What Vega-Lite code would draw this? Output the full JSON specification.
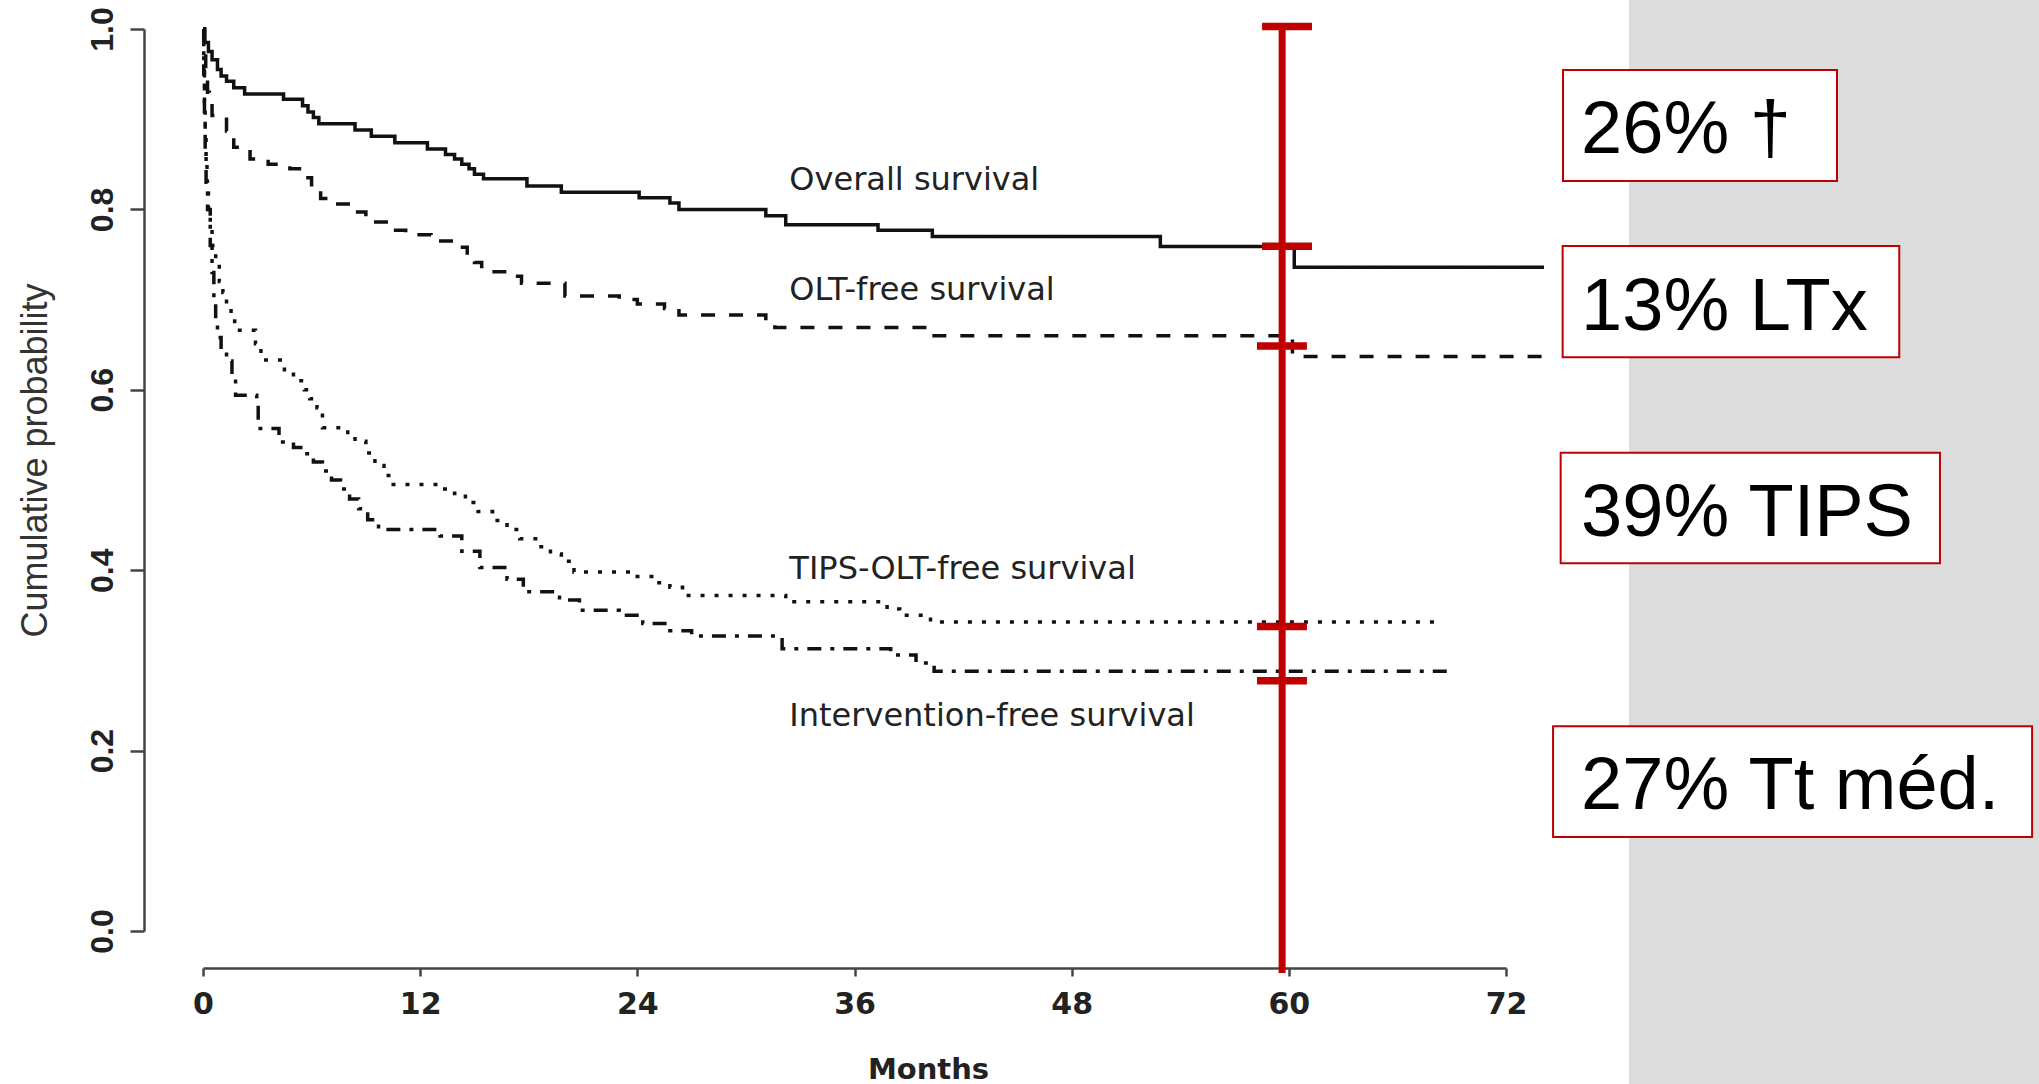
{
  "$schema": "https://vega.github.io/schema/vega-lite/v6.json",
  "width": 1303,
  "height": 902,
  "autosize": {"type": "none"},
  "padding": {"left": 203, "top": 29, "right": 533, "bottom": 153},
  "background": "white",
  "config": {"view": {"stroke": null}},
  "datasets": {
    "panel": [{"m0": 78.8, "m1": 102, "p0": -0.2, "p1": 1.05}],
    "curves": [
      {"series": "Overall survival", "month": 0, "prob": 1.0},
      {"series": "Overall survival", "month": 0.1, "prob": 0.985},
      {"series": "Overall survival", "month": 0.3, "prob": 0.975},
      {"series": "Overall survival", "month": 0.5, "prob": 0.966},
      {"series": "Overall survival", "month": 0.8, "prob": 0.955},
      {"series": "Overall survival", "month": 1.0, "prob": 0.948},
      {"series": "Overall survival", "month": 1.3, "prob": 0.942},
      {"series": "Overall survival", "month": 1.7, "prob": 0.935},
      {"series": "Overall survival", "month": 2.3, "prob": 0.928},
      {"series": "Overall survival", "month": 4.45, "prob": 0.922},
      {"series": "Overall survival", "month": 5.5, "prob": 0.915},
      {"series": "Overall survival", "month": 5.8, "prob": 0.908},
      {"series": "Overall survival", "month": 6.1, "prob": 0.902},
      {"series": "Overall survival", "month": 6.4, "prob": 0.895},
      {"series": "Overall survival", "month": 8.4, "prob": 0.888},
      {"series": "Overall survival", "month": 9.3, "prob": 0.881},
      {"series": "Overall survival", "month": 10.6, "prob": 0.874},
      {"series": "Overall survival", "month": 12.4, "prob": 0.867},
      {"series": "Overall survival", "month": 13.4, "prob": 0.861},
      {"series": "Overall survival", "month": 13.9, "prob": 0.856},
      {"series": "Overall survival", "month": 14.3, "prob": 0.85},
      {"series": "Overall survival", "month": 14.7, "prob": 0.845},
      {"series": "Overall survival", "month": 15.0, "prob": 0.839},
      {"series": "Overall survival", "month": 15.5, "prob": 0.834},
      {"series": "Overall survival", "month": 17.9, "prob": 0.826},
      {"series": "Overall survival", "month": 19.8, "prob": 0.819},
      {"series": "Overall survival", "month": 24.1, "prob": 0.813},
      {"series": "Overall survival", "month": 25.8, "prob": 0.807},
      {"series": "Overall survival", "month": 26.3, "prob": 0.8},
      {"series": "Overall survival", "month": 31.1, "prob": 0.793},
      {"series": "Overall survival", "month": 32.2, "prob": 0.783},
      {"series": "Overall survival", "month": 37.3, "prob": 0.777},
      {"series": "Overall survival", "month": 40.3, "prob": 0.77},
      {"series": "Overall survival", "month": 52.9, "prob": 0.759},
      {"series": "Overall survival", "month": 60.3, "prob": 0.736},
      {"series": "Overall survival", "month": 74.1, "prob": 0.736},
      {"series": "OLT-free survival", "month": 0, "prob": 1.0},
      {"series": "OLT-free survival", "month": 0.08, "prob": 0.975},
      {"series": "OLT-free survival", "month": 0.15, "prob": 0.95},
      {"series": "OLT-free survival", "month": 0.25, "prob": 0.93},
      {"series": "OLT-free survival", "month": 0.35, "prob": 0.915},
      {"series": "OLT-free survival", "month": 0.5, "prob": 0.904},
      {"series": "OLT-free survival", "month": 1.3, "prob": 0.887},
      {"series": "OLT-free survival", "month": 1.7, "prob": 0.869},
      {"series": "OLT-free survival", "month": 2.6, "prob": 0.856},
      {"series": "OLT-free survival", "month": 3.6, "prob": 0.85},
      {"series": "OLT-free survival", "month": 4.8, "prob": 0.845},
      {"series": "OLT-free survival", "month": 5.7, "prob": 0.835},
      {"series": "OLT-free survival", "month": 6.0, "prob": 0.825},
      {"series": "OLT-free survival", "month": 6.5, "prob": 0.812},
      {"series": "OLT-free survival", "month": 7.3, "prob": 0.806},
      {"series": "OLT-free survival", "month": 8.4, "prob": 0.797},
      {"series": "OLT-free survival", "month": 9.0, "prob": 0.786},
      {"series": "OLT-free survival", "month": 10.4, "prob": 0.777},
      {"series": "OLT-free survival", "month": 11.2, "prob": 0.772},
      {"series": "OLT-free survival", "month": 12.6, "prob": 0.765},
      {"series": "OLT-free survival", "month": 14.0, "prob": 0.758},
      {"series": "OLT-free survival", "month": 14.6, "prob": 0.748},
      {"series": "OLT-free survival", "month": 15.0, "prob": 0.741},
      {"series": "OLT-free survival", "month": 15.4, "prob": 0.731},
      {"series": "OLT-free survival", "month": 16.8, "prob": 0.726},
      {"series": "OLT-free survival", "month": 17.6, "prob": 0.718},
      {"series": "OLT-free survival", "month": 20.0, "prob": 0.704},
      {"series": "OLT-free survival", "month": 23.0, "prob": 0.7},
      {"series": "OLT-free survival", "month": 24.0, "prob": 0.695},
      {"series": "OLT-free survival", "month": 25.5, "prob": 0.69},
      {"series": "OLT-free survival", "month": 26.3, "prob": 0.683},
      {"series": "OLT-free survival", "month": 31.1, "prob": 0.676},
      {"series": "OLT-free survival", "month": 31.6, "prob": 0.669},
      {"series": "OLT-free survival", "month": 40.3, "prob": 0.66},
      {"series": "OLT-free survival", "month": 60.2, "prob": 0.637},
      {"series": "OLT-free survival", "month": 74.0, "prob": 0.637},
      {"series": "TIPS-OLT-free survival", "month": 0, "prob": 1.0},
      {"series": "TIPS-OLT-free survival", "month": 0.04, "prob": 0.96},
      {"series": "TIPS-OLT-free survival", "month": 0.08, "prob": 0.92},
      {"series": "TIPS-OLT-free survival", "month": 0.12, "prob": 0.88},
      {"series": "TIPS-OLT-free survival", "month": 0.17, "prob": 0.85},
      {"series": "TIPS-OLT-free survival", "month": 0.22, "prob": 0.82},
      {"series": "TIPS-OLT-free survival", "month": 0.3, "prob": 0.8},
      {"series": "TIPS-OLT-free survival", "month": 0.4, "prob": 0.78},
      {"series": "TIPS-OLT-free survival", "month": 0.5, "prob": 0.76},
      {"series": "TIPS-OLT-free survival", "month": 0.7, "prob": 0.74},
      {"series": "TIPS-OLT-free survival", "month": 0.9, "prob": 0.72},
      {"series": "TIPS-OLT-free survival", "month": 1.1, "prob": 0.708},
      {"series": "TIPS-OLT-free survival", "month": 1.3, "prob": 0.695},
      {"series": "TIPS-OLT-free survival", "month": 1.55, "prob": 0.68},
      {"series": "TIPS-OLT-free survival", "month": 1.75, "prob": 0.666},
      {"series": "TIPS-OLT-free survival", "month": 2.9, "prob": 0.651},
      {"series": "TIPS-OLT-free survival", "month": 3.2, "prob": 0.633},
      {"series": "TIPS-OLT-free survival", "month": 4.5, "prob": 0.62},
      {"series": "TIPS-OLT-free survival", "month": 5.0, "prob": 0.61},
      {"series": "TIPS-OLT-free survival", "month": 5.6, "prob": 0.6},
      {"series": "TIPS-OLT-free survival", "month": 5.9, "prob": 0.59},
      {"series": "TIPS-OLT-free survival", "month": 6.3, "prob": 0.58},
      {"series": "TIPS-OLT-free survival", "month": 6.6, "prob": 0.558},
      {"series": "TIPS-OLT-free survival", "month": 8.0, "prob": 0.55},
      {"series": "TIPS-OLT-free survival", "month": 8.4, "prob": 0.543},
      {"series": "TIPS-OLT-free survival", "month": 9.0, "prob": 0.53},
      {"series": "TIPS-OLT-free survival", "month": 9.5, "prob": 0.516},
      {"series": "TIPS-OLT-free survival", "month": 10.0, "prob": 0.505},
      {"series": "TIPS-OLT-free survival", "month": 10.4, "prob": 0.495},
      {"series": "TIPS-OLT-free survival", "month": 13.0, "prob": 0.49},
      {"series": "TIPS-OLT-free survival", "month": 13.9, "prob": 0.485},
      {"series": "TIPS-OLT-free survival", "month": 14.5, "prob": 0.475},
      {"series": "TIPS-OLT-free survival", "month": 15.2, "prob": 0.465},
      {"series": "TIPS-OLT-free survival", "month": 16.0, "prob": 0.455},
      {"series": "TIPS-OLT-free survival", "month": 16.8, "prob": 0.445},
      {"series": "TIPS-OLT-free survival", "month": 17.5, "prob": 0.435},
      {"series": "TIPS-OLT-free survival", "month": 18.5, "prob": 0.426},
      {"series": "TIPS-OLT-free survival", "month": 19.2, "prob": 0.418},
      {"series": "TIPS-OLT-free survival", "month": 19.8, "prob": 0.41},
      {"series": "TIPS-OLT-free survival", "month": 20.5, "prob": 0.398},
      {"series": "TIPS-OLT-free survival", "month": 23.7, "prob": 0.393},
      {"series": "TIPS-OLT-free survival", "month": 25.0, "prob": 0.386},
      {"series": "TIPS-OLT-free survival", "month": 25.8, "prob": 0.381},
      {"series": "TIPS-OLT-free survival", "month": 26.5, "prob": 0.372},
      {"series": "TIPS-OLT-free survival", "month": 32.2, "prob": 0.365},
      {"series": "TIPS-OLT-free survival", "month": 37.8, "prob": 0.357},
      {"series": "TIPS-OLT-free survival", "month": 38.5, "prob": 0.35},
      {"series": "TIPS-OLT-free survival", "month": 40.2, "prob": 0.3425},
      {"series": "TIPS-OLT-free survival", "month": 68.1, "prob": 0.3425},
      {"series": "Intervention-free survival", "month": 0, "prob": 1.0},
      {"series": "Intervention-free survival", "month": 0.04, "prob": 0.95},
      {"series": "Intervention-free survival", "month": 0.08, "prob": 0.9},
      {"series": "Intervention-free survival", "month": 0.12, "prob": 0.86},
      {"series": "Intervention-free survival", "month": 0.17, "prob": 0.83},
      {"series": "Intervention-free survival", "month": 0.25, "prob": 0.8},
      {"series": "Intervention-free survival", "month": 0.4, "prob": 0.76},
      {"series": "Intervention-free survival", "month": 0.5, "prob": 0.73},
      {"series": "Intervention-free survival", "month": 0.6, "prob": 0.7},
      {"series": "Intervention-free survival", "month": 0.7, "prob": 0.675},
      {"series": "Intervention-free survival", "month": 0.8, "prob": 0.658},
      {"series": "Intervention-free survival", "month": 1.0, "prob": 0.645},
      {"series": "Intervention-free survival", "month": 1.3, "prob": 0.632},
      {"series": "Intervention-free survival", "month": 1.6, "prob": 0.612},
      {"series": "Intervention-free survival", "month": 1.8, "prob": 0.594},
      {"series": "Intervention-free survival", "month": 2.97, "prob": 0.585},
      {"series": "Intervention-free survival", "month": 3.05, "prob": 0.557},
      {"series": "Intervention-free survival", "month": 4.2, "prob": 0.542},
      {"series": "Intervention-free survival", "month": 5.0, "prob": 0.536},
      {"series": "Intervention-free survival", "month": 5.6, "prob": 0.529},
      {"series": "Intervention-free survival", "month": 6.1, "prob": 0.52},
      {"series": "Intervention-free survival", "month": 6.6, "prob": 0.51},
      {"series": "Intervention-free survival", "month": 7.1, "prob": 0.5},
      {"series": "Intervention-free survival", "month": 7.6, "prob": 0.49},
      {"series": "Intervention-free survival", "month": 8.1, "prob": 0.479},
      {"series": "Intervention-free survival", "month": 8.6, "prob": 0.468},
      {"series": "Intervention-free survival", "month": 9.1, "prob": 0.456},
      {"series": "Intervention-free survival", "month": 9.7, "prob": 0.445},
      {"series": "Intervention-free survival", "month": 13.1, "prob": 0.438},
      {"series": "Intervention-free survival", "month": 14.3, "prob": 0.421},
      {"series": "Intervention-free survival", "month": 15.3, "prob": 0.403},
      {"series": "Intervention-free survival", "month": 16.8, "prob": 0.39},
      {"series": "Intervention-free survival", "month": 17.7, "prob": 0.376},
      {"series": "Intervention-free survival", "month": 19.7, "prob": 0.367},
      {"series": "Intervention-free survival", "month": 20.8, "prob": 0.3555},
      {"series": "Intervention-free survival", "month": 23.0, "prob": 0.35},
      {"series": "Intervention-free survival", "month": 24.3, "prob": 0.341},
      {"series": "Intervention-free survival", "month": 25.8, "prob": 0.333},
      {"series": "Intervention-free survival", "month": 27.0, "prob": 0.327},
      {"series": "Intervention-free survival", "month": 32.0, "prob": 0.313},
      {"series": "Intervention-free survival", "month": 38.0, "prob": 0.306},
      {"series": "Intervention-free survival", "month": 39.4, "prob": 0.297},
      {"series": "Intervention-free survival", "month": 40.4, "prob": 0.288},
      {"series": "Intervention-free survival", "month": 68.9, "prob": 0.288}
    ],
    "labels": [
      {"label": "Overall survival", "month": 32.4, "prob": 0.8215},
      {"label": "OLT-free survival", "month": 32.4, "prob": 0.6996},
      {"label": "TIPS-OLT-free survival", "month": 32.4, "prob": 0.3902},
      {"label": "Intervention-free survival", "month": 32.4, "prob": 0.2273}
    ],
    "redline": [{"month": 59.63, "p0": -0.0466, "p1": 1.0028}],
    "caps": [
      {"m0": 58.52, "m1": 61.28, "prob": 1.0028},
      {"m0": 58.52, "m1": 61.28, "prob": 0.7591},
      {"m0": 58.24, "m1": 61.0, "prob": 0.6486},
      {"m0": 58.24, "m1": 61.0, "prob": 0.3375},
      {"m0": 58.24, "m1": 61.0, "prob": 0.2774}
    ],
    "boxes": [
      {"m0": 75.15, "m1": 90.29, "p0": 0.8315, "p1": 0.9545, "text": "26% †", "tm": 76.15, "tp": 0.8621},
      {"m0": 75.13, "m1": 93.73, "p0": 0.636, "p1": 0.7594, "text": "13% LTx", "tm": 76.15, "tp": 0.666},
      {"m0": 75.02, "m1": 95.98, "p0": 0.4078, "p1": 0.5303, "text": "39% TIPS", "tm": 76.15, "tp": 0.4384},
      {"m0": 74.6, "m1": 101.07, "p0": 0.1043, "p1": 0.2269, "text": "27% Tt méd.", "tm": 76.15, "tp": 0.1357}
    ]
  },
  "layer": [
    {
      "data": {"name": "panel"},
      "mark": {"type": "rect", "color": "#dcdcdc", "clip": false},
      "encoding": {
        "x": {
          "field": "m0", "type": "quantitative", "title": "Months",
          "scale": {"domain": [0, 72], "nice": false, "zero": false},
          "axis": {
            "values": [0, 12, 24, 36, 48, 60, 72],
            "title": "Months",
            "offset": 37,
            "grid": false,
            "domainColor": "#444444", "domainWidth": 2.5,
            "tickColor": "#444444", "tickWidth": 2.5, "tickSize": 8,
            "labelFont": "DejaVu Sans", "labelFontSize": 30, "labelFontWeight": "bold", "labelColor": "#222222",
            "labelBaseline": "alphabetic", "labelPadding": 37, "labelFlush": false, "labelOverlap": false,
            "titleFont": "DejaVu Sans", "titleFontSize": 29, "titleFontWeight": "bold", "titleColor": "#222222",
            "titleX": 725, "titleY": 110, "titleBaseline": "alphabetic", "titleAlign": "center"
          }
        },
        "x2": {"field": "m1"},
        "y": {
          "field": "p0", "type": "quantitative", "title": "Cumulative probability",
          "scale": {"domain": [0, 1], "nice": false, "zero": false},
          "axis": {
            "values": [0, 0.2, 0.4, 0.6, 0.8, 1.0],
            "format": ".1f",
            "title": "Cumulative probability",
            "offset": 59,
            "grid": false,
            "domainColor": "#444444", "domainWidth": 2.5,
            "tickColor": "#444444", "tickWidth": 2.5, "tickSize": 14,
            "labelAngle": 270, "labelAlign": "center", "labelBaseline": "alphabetic", "labelPadding": 18,
            "labelFont": "Liberation Sans", "labelFontSize": 32, "labelFontWeight": "bold", "labelColor": "#222222",
            "labelFlush": false, "labelOverlap": false,
            "titleFont": "Liberation Sans", "titleFontSize": 36, "titleFontWeight": "normal", "titleColor": "#333333",
            "titleAngle": 270, "titleX": -98, "titleY": 431, "titleBaseline": "alphabetic", "titleAlign": "center"
          }
        },
        "y2": {"field": "p1"}
      }
    },
    {
      "data": {"name": "curves"},
      "mark": {"type": "line", "interpolate": "step-after", "strokeWidth": 3.5, "color": "#111111", "clip": false, "strokeCap": "butt"},
      "encoding": {
        "x": {"field": "month", "type": "quantitative", "title": "Months", "scale": {"domain": [0, 72], "nice": false, "zero": false}},
        "y": {"field": "prob", "type": "quantitative", "title": "Cumulative probability", "scale": {"domain": [0, 1], "nice": false, "zero": false}},
        "strokeDash": {
          "field": "series", "type": "nominal",
          "scale": {
            "domain": ["Overall survival", "OLT-free survival", "TIPS-OLT-free survival", "Intervention-free survival"],
            "range": [[1, 0], [14, 14], [4, 10], [14, 9, 4, 9]]
          },
          "legend": null
        }
      }
    },
    {
      "data": {"name": "labels"},
      "mark": {"type": "text", "align": "left", "baseline": "alphabetic", "font": "DejaVu Sans", "fontSize": 32, "color": "#222222", "clip": false},
      "encoding": {
        "x": {"field": "month", "type": "quantitative", "title": "Months", "scale": {"domain": [0, 72], "nice": false, "zero": false}},
        "y": {"field": "prob", "type": "quantitative", "title": "Cumulative probability", "scale": {"domain": [0, 1], "nice": false, "zero": false}},
        "text": {"field": "label"}
      }
    },
    {
      "data": {"name": "redline"},
      "mark": {"type": "rule", "color": "#c00000", "strokeWidth": 7, "clip": false},
      "encoding": {
        "x": {"field": "month", "type": "quantitative", "title": "Months", "scale": {"domain": [0, 72], "nice": false, "zero": false}},
        "y": {"field": "p0", "type": "quantitative", "title": "Cumulative probability", "scale": {"domain": [0, 1], "nice": false, "zero": false}},
        "y2": {"field": "p1"}
      }
    },
    {
      "data": {"name": "caps"},
      "mark": {"type": "rule", "color": "#c00000", "strokeWidth": 7.5, "clip": false},
      "encoding": {
        "x": {"field": "m0", "type": "quantitative", "title": "Months", "scale": {"domain": [0, 72], "nice": false, "zero": false}},
        "x2": {"field": "m1"},
        "y": {"field": "prob", "type": "quantitative", "title": "Cumulative probability", "scale": {"domain": [0, 1], "nice": false, "zero": false}}
      }
    },
    {
      "data": {"name": "boxes"},
      "mark": {"type": "rect", "fill": "white", "stroke": "#c00000", "strokeWidth": 2, "clip": false},
      "encoding": {
        "x": {"field": "m0", "type": "quantitative", "title": "Months", "scale": {"domain": [0, 72], "nice": false, "zero": false}},
        "x2": {"field": "m1"},
        "y": {"field": "p0", "type": "quantitative", "title": "Cumulative probability", "scale": {"domain": [0, 1], "nice": false, "zero": false}},
        "y2": {"field": "p1"}
      }
    },
    {
      "data": {"name": "boxes"},
      "mark": {"type": "text", "align": "left", "baseline": "alphabetic", "font": "Liberation Sans", "fontSize": 74, "color": "#000000", "clip": false},
      "encoding": {
        "x": {"field": "tm", "type": "quantitative", "title": "Months", "scale": {"domain": [0, 72], "nice": false, "zero": false}},
        "y": {"field": "tp", "type": "quantitative", "title": "Cumulative probability", "scale": {"domain": [0, 1], "nice": false, "zero": false}},
        "text": {"field": "text"}
      }
    }
  ]
}
